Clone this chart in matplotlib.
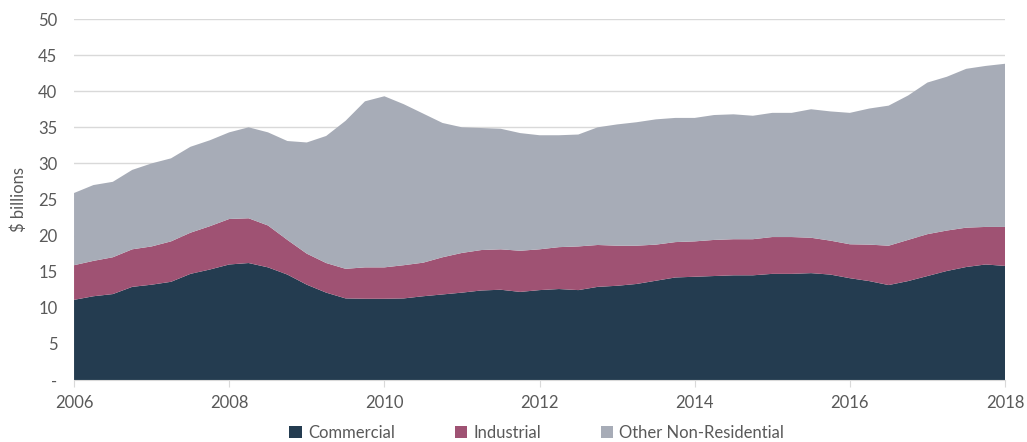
import numpy as np
import matplotlib
matplotlib.use("Agg")
import matplotlib.pyplot as plt

# quarterly values, $ billions, 2006 Q1 .. 2018 Q1
commercial = [11.1, 11.6, 11.9, 12.9, 13.2, 13.6, 14.7, 15.3, 16.0, 16.2,
              15.6, 14.6, 13.2, 12.1, 11.3, 11.25, 11.25, 11.3, 11.6, 11.85,
              12.1, 12.4, 12.5, 12.2, 12.45, 12.6, 12.45, 12.9, 13.05, 13.3,
              13.75, 14.2, 14.3, 14.4, 14.5, 14.5, 14.7, 14.7, 14.8, 14.6,
              14.1, 13.7, 13.15, 13.7, 14.4, 15.1, 15.65, 16.0, 15.8]
industrial = [4.8, 4.9, 5.1, 5.2, 5.3, 5.6, 5.7, 6.0, 6.3, 6.2,
              5.8, 4.8, 4.3, 4.1, 4.1, 4.35, 4.35, 4.6, 4.65, 5.15,
              5.5, 5.6, 5.6, 5.7, 5.65, 5.8, 6.05, 5.8, 5.55, 5.3,
              5.0, 4.9, 4.9, 5.0, 5.0, 5.0, 5.1, 5.1, 4.9, 4.7,
              4.7, 5.05, 5.45, 5.7, 5.8, 5.6, 5.45, 5.2, 5.4]
other = [10.0, 10.5, 10.45, 11.0, 11.5, 11.5, 11.9, 11.9, 12.0, 12.6,
         12.9, 13.7, 15.4, 17.6, 20.5, 23.0, 23.7, 22.3, 20.65, 18.6,
         17.4, 16.9, 16.7, 16.3, 15.8, 15.5, 15.5, 16.3, 16.8, 17.1,
         17.35, 17.2, 17.1, 17.3, 17.3, 17.1, 17.2, 17.2, 17.8, 17.9,
         18.2, 18.85, 19.4, 20.0, 21.0, 21.3, 22.0, 22.3, 22.6]
labels = ["Commercial", "Industrial", "Other Non-Residential"]
colors = ["#243c50", "#9f5273", "#a7acb7"]
x = 2006 + np.arange(len(commercial)) / 4

plt.rcParams['font.family'] = ['Lato', 'DejaVu Sans']
fig = plt.figure(figsize=(10.27, 4.42), dpi=100)
ax = fig.add_axes([0.0721, 0.1403, 0.9065, 0.8167])

ax.stackplot(x, commercial, industrial, other, colors=colors, labels=labels, lw=0)

ax.set_xlim(2006, 2018)
ax.set_ylim(0, 50)
ax.set_yticks(range(0, 51, 5))
ax.set_yticklabels(["-"] + [str(v) for v in range(5, 51, 5)])
ax.set_xticks(range(2006, 2019, 2))
ax.grid(axis='y', color='#d9d9d9', lw=1)
ax.set_axisbelow(True)
for s in ['top', 'right', 'left']:
    ax.spines[s].set_visible(False)
ax.spines['bottom'].set_color('#d9d9d9')
ax.spines['bottom'].set_zorder(5)
ax.tick_params(axis='y', length=0, pad=12, labelsize=12, labelcolor='#595959')
ax.tick_params(axis='x', length=5, color='#d9d9d9', pad=6, labelsize=12, labelcolor='#595959')
ax.set_ylabel("$ billions", fontsize=12, color='#595959', labelpad=8)

ax.legend(loc='center', bbox_to_anchor=(0.497, -0.147), ncol=3, frameon=False,
          fontsize=12, labelcolor='#595959', handlelength=0.75, handleheight=0.75,
          handletextpad=0.35, columnspacing=3.6)

fig.savefig("out.png", dpi=100)
